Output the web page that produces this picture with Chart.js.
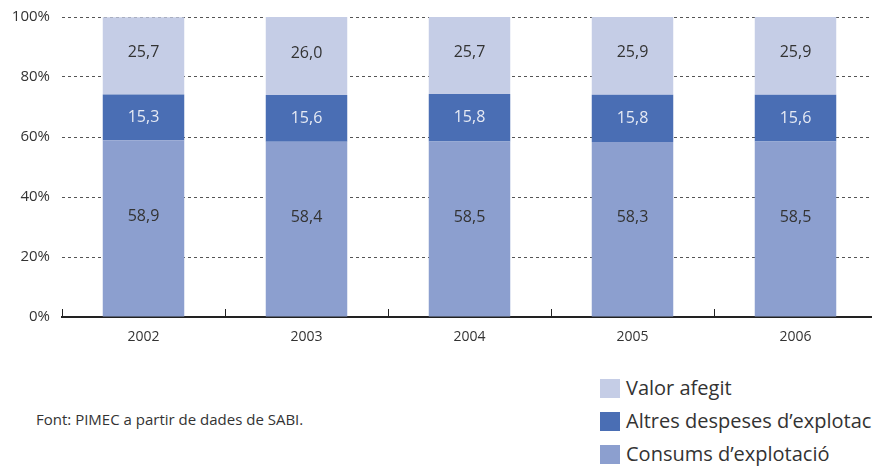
<!DOCTYPE html>
<html><head><meta charset="utf-8">
<script src="https://cdn.jsdelivr.net/npm/chart.js@4"></script>
<style>
html,body{margin:0;padding:0;width:872px;height:466px;overflow:hidden;background:#fff;font-family:"Open Sans",sans-serif;}
#wrap{position:absolute;left:0;top:-4px;width:880px;height:354px;}
#src{position:absolute;left:36px;top:409px;font-size:15px;color:#333;white-space:nowrap;}
.lg{position:absolute;left:600px;font-size:20px;color:#333;white-space:nowrap;line-height:20px;}
.lg span{display:inline-block;width:20px;height:19px;vertical-align:top;margin-right:6px;margin-top:1px;}
</style></head><body>
<div id="wrap"><canvas id="c"></canvas></div>
<div id="src">Font: PIMEC a partir de dades de SABI.</div>
<div class="lg" style="top:378px"><span style="background:#c5cde6"></span>Valor afegit</div>
<div class="lg" style="top:411px"><span style="background:#4a6eb4"></span>Altres despeses d’explotació</div>
<div class="lg" style="top:444px"><span style="background:#8c9fcf"></span>Consums d’explotació</div>
<script>
const categories = ["2002","2003","2004","2005","2006"];
const consums = [58.9, 58.4, 58.5, 58.3, 58.5];
const altres = [15.3, 15.6, 15.8, 15.8, 15.6];
const valorAfegit = [25.7, 26.0, 25.7, 25.9, 25.9];
const yTicks = [0, 20, 40, 60, 80, 100];

const fmt = v => v.toFixed(1).replace('.', ',');

const labelPlugin = {
  id: 'segLabels',
  afterDatasetsDraw(chart) {
    const ctx = chart.ctx;
    ctx.save();
    ctx.font = '16px "Open Sans", sans-serif';
    ctx.textAlign = 'center';
    ctx.textBaseline = 'middle';
    chart.data.datasets.forEach((ds, di) => {
      const meta = chart.getDatasetMeta(di);
      meta.data.forEach((bar, i) => {
        const y = (bar.y + bar.base) / 2 + ds.labelShift;
        ctx.fillStyle = ds.labelColor;
        ctx.fillText(fmt(ds.data[i]), bar.x, y);
      });
    });
    ctx.restore();
  }
};

const tickMarks = {
  id: 'tickMarks',
  afterDraw(chart) {
    const xs = chart.scales.x, ca = chart.chartArea, ctx = chart.ctx;
    const w = xs.getPixelForValue(1) - xs.getPixelForValue(0);
    ctx.save();
    ctx.strokeStyle = '#222';
    ctx.lineWidth = 1;
    for (let i = 0; i <= categories.length; i++) {
      const x = Math.round(xs.getPixelForValue(0) - w / 2 + i * w) + 0.5;
      ctx.beginPath();
      ctx.moveTo(x, ca.bottom);
      ctx.lineTo(x, ca.bottom - 8);
      ctx.stroke();
    }
    ctx.restore();
  }
};

new Chart(document.getElementById('c'), {
  type: 'bar',
  data: {
    labels: categories,
    datasets: [
      { label: 'Consums d’explotació', data: consums, backgroundColor: '#8c9fcf', labelColor: '#333', labelShift: -12 },
      { label: 'Altres despeses d’explotació', data: altres, backgroundColor: '#4a6eb4', labelColor: '#e6eaf4', labelShift: 0 },
      { label: 'Valor afegit', data: valorAfegit, backgroundColor: '#c5cde6', labelColor: '#333', labelShift: -3 }
    ]
  },
  options: {
    responsive: true,
    maintainAspectRatio: false,
    animation: false,
    events: [],
    datasets: { bar: { categoryPercentage: 1, barPercentage: 0.5 } },
    layout: { padding: { top: 12, right: 3, bottom: 0, left: 0 } },
    plugins: { legend: { display: false }, tooltip: { enabled: false } },
    scales: {
      x: {
        stacked: true,
        offset: true,
        grid: { display: false, drawTicks: false },
        border: { display: true, color: '#222', width: 2 },
        ticks: { color: '#333', font: { family: 'Open Sans', size: 14 }, padding: 12 },
        afterFit(s) { s.height = 33; }
      },
      y: {
        stacked: true,
        min: 0, max: 100,
        afterBuildTicks(s) { s.ticks = yTicks.map(v => ({ value: v })); },
        grid: { color: '#555', drawTicks: false, lineWidth: 1 },
        border: { display: false, dash: [3, 3] },
        ticks: { color: '#333', font: { family: 'Open Sans', size: 15 }, padding: 12, callback: v => v + '%' },
        afterFit(s) { s.width = 62; }
      }
    }
  },
  plugins: [labelPlugin, tickMarks]
});
</script>
</body></html>
